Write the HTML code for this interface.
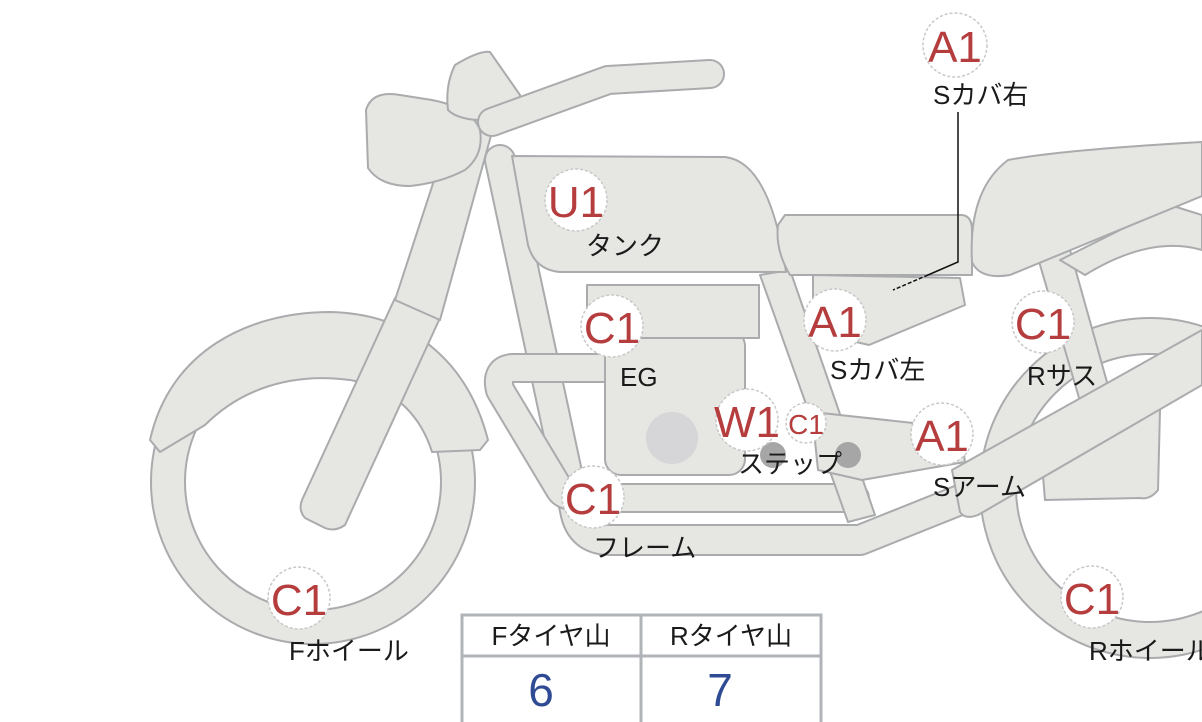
<!DOCTYPE html>
<html><head><meta charset="utf-8"><style>
html,body{margin:0;padding:0;background:#fff;}
svg{display:block;}
.s{fill:#e6e6e3;stroke:#a9abad;stroke-width:2;stroke-linejoin:round;}
.o{fill:none;stroke:#a9abad;stroke-linejoin:round;stroke-linecap:round;}
.i{fill:none;stroke:#e6e6e3;stroke-linejoin:round;stroke-linecap:round;}
.lab{font-family:"Liberation Sans","Noto Sans CJK JP",sans-serif;font-size:26px;fill:#1a1a1a;}
.bd circle{fill:#fff;stroke:#c8c8c8;stroke-width:1.5;stroke-dasharray:3 2;}
.bd text{font-family:"Liberation Sans",sans-serif;fill:#b53d3e;text-anchor:middle;}
</style></head><body>
<svg width="1202" height="722" viewBox="0 0 1202 722" xmlns="http://www.w3.org/2000/svg">
<!-- rear wheel -->
<circle cx="1150" cy="488" r="152" fill="none" stroke="#a9abad" stroke-width="38"/>
<circle cx="1150" cy="488" r="152" fill="none" stroke="#e6e6e3" stroke-width="34"/>
<!-- front wheel ring -->
<circle cx="313" cy="482" r="145" fill="none" stroke="#a9abad" stroke-width="36"/>
<circle cx="313" cy="482" r="145" fill="none" stroke="#e6e6e3" stroke-width="32"/>
<!-- front fender -->
<path class="s" d="M150,440 C170,350 250,312 330,312 C420,314 470,370 488,440 L480,450 L432,452 C422,420 398,388 350,380 C290,372 240,390 205,425 L160,452 Z"/>
<!-- fork lower -->
<path class="s" d="M395,298 L440,318 L345,525 Q335,532 325,528 L305,518 Q298,510 302,500 Z"/>
<!-- fork upper -->
<path class="s" d="M470,70 L505,85 L440,320 L395,300 Z"/>
<!-- headlight -->
<path class="s" d="M366,110 Q372,90 400,95 L432,100 Q472,108 480,130 Q484,155 465,170 Q440,183 410,186 Q380,186 368,168 Z"/>
<!-- mirror -->
<path class="s" d="M455,65 Q480,50 490,52 L520,95 Q520,115 495,120 Q460,122 448,110 Q445,85 455,65 Z"/>
<!-- handlebar -->
<path class="o" d="M492,122 L608,80 L710,74" stroke-width="30"/>
<path class="i" d="M492,122 L608,80 L710,74" stroke-width="26"/>
<!-- frame downtube & lower frame -->
<path class="o" d="M500,160 L575,510 Q580,540 610,540 L860,540 L960,500" stroke-width="32"/>
<path class="i" d="M500,160 L575,510 Q580,540 610,540 L860,540 L960,500" stroke-width="28"/>
<!-- exhaust loop -->
<path class="o" d="M605,368 L512,368 Q495,370 500,390 L560,490 Q565,498 590,498 L855,498" stroke-width="30"/>
<path class="i" d="M605,368 L512,368 Q495,370 500,390 L560,490 Q565,498 590,498 L855,498" stroke-width="26"/>
<!-- engine -->
<rect class="s" x="605" y="330" width="140" height="145" rx="16"/>
<rect class="s" x="587" y="285" width="172" height="53"/>
<circle cx="672" cy="438" r="26" fill="#d6d6d8"/>
<!-- rear frame strut -->
<path class="s" d="M760,275 L790,270 L875,515 L848,522 Z"/>
<!-- step bar -->
<path class="s" d="M812,412 L960,428 L965,462 L862,480 L818,470 Z"/>
<circle cx="773" cy="455" r="13" fill="#a6a6a6"/>
<circle cx="848" cy="455" r="13" fill="#a6a6a6"/>
<!-- side cover -->
<path class="s" d="M813,275 L960,278 L965,305 L869,345 L813,332 Z"/>
<!-- tank -->
<path class="s" d="M512,156 L725,157 Q770,162 786,272 L560,272 Q535,270 528,245 Z"/>
<!-- seat -->
<path class="s" d="M785,215 L962,215 Q972,216 972,230 L972,275 L790,275 Q775,250 778,225 Z"/>
<!-- rear shock -->
<path class="s" d="M1038,258 L1070,250 L1112,400 L1082,408 Z"/>
<!-- rear fender lower -->
<path class="s" d="M1060,260 L1170,205 L1202,215 L1202,250 Q1150,235 1085,275 Z"/>
<!-- rear cowl -->
<path class="s" d="M1008,160 Q1060,150 1202,142 L1202,196 L1010,275 Q980,280 972,262 Q968,190 1008,160 Z"/>
<!-- muffler -->
<path class="s" d="M1040,440 L1150,395 Q1160,398 1160,410 L1158,490 Q1150,500 1140,498 L1045,500 Z"/>
<!-- swingarm -->
<path class="s" d="M952,470 L1202,330 L1202,385 L978,515 Q965,520 960,512 Z"/>
<!-- leader -->
<path d="M958,112 L958,262 L928,275" fill="none" stroke="#111" stroke-width="1.5"/>
<path d="M928,275 L893,290" fill="none" stroke="#111" stroke-width="1.5" stroke-dasharray="4 2"/>
<!-- badges -->
<g class="bd">
<circle cx="955" cy="45" r="32"/><text x="955" y="62" font-size="44">A1</text>
<circle cx="576" cy="200" r="31"/><text x="576" y="217" font-size="44">U1</text>
<circle cx="612" cy="326" r="31"/><text x="612" y="343" font-size="44">C1</text>
<circle cx="835" cy="320" r="31"/><text x="835" y="337" font-size="44">A1</text>
<circle cx="1043" cy="322" r="31"/><text x="1043" y="339" font-size="44">C1</text>
<circle cx="747" cy="420" r="31"/><text x="747" y="437" font-size="44">W1</text>
<circle cx="806" cy="423" r="20"/><text x="806" y="434" font-size="28">C1</text>
<circle cx="942" cy="434" r="31"/><text x="942" y="451" font-size="44">A1</text>
<circle cx="593" cy="497" r="31"/><text x="593" y="514" font-size="44">C1</text>
<circle cx="299" cy="598" r="31"/><text x="299" y="615" font-size="44">C1</text>
<circle cx="1092" cy="597" r="31"/><text x="1092" y="614" font-size="44">C1</text>
</g>
<!-- labels -->
<text class="lab" x="933" y="104">Sカバ右</text>
<text class="lab" x="586" y="255">タンク</text>
<text class="lab" x="620" y="386">EG</text>
<text class="lab" x="830" y="379">Sカバ左</text>
<text class="lab" x="1027" y="385">Rサス</text>
<text class="lab" x="738" y="473">ステップ</text>
<text class="lab" x="933" y="496">Sアーム</text>
<text class="lab" x="593" y="557">フレーム</text>
<text class="lab" x="289" y="660">Fホイール</text>
<text class="lab" x="1089" y="660">Rホイール</text>
<!-- table -->
<rect x="462" y="615" width="359" height="110" fill="#fff" stroke="#b0b3b8" stroke-width="3"/>
<line x1="462" y1="656" x2="821" y2="656" stroke="#b0b3b8" stroke-width="3"/>
<line x1="641" y1="615" x2="641" y2="722" stroke="#b0b3b8" stroke-width="3"/>
<text class="lab" x="551" y="645" text-anchor="middle">Fタイヤ山</text>
<text class="lab" x="731" y="645" text-anchor="middle">Rタイヤ山</text>
<text x="541" y="706" font-family="Liberation Sans,sans-serif" font-size="46" fill="#2f4b94" text-anchor="middle">6</text>
<text x="720" y="706" font-family="Liberation Sans,sans-serif" font-size="46" fill="#2f4b94" text-anchor="middle">7</text>
</svg>
</body></html>
